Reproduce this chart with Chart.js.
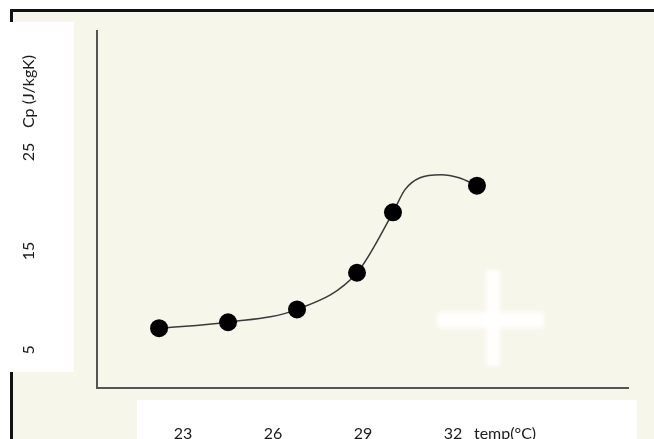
<!DOCTYPE html>
<html>
<head>
<meta charset="utf-8">
<script src="https://cdn.jsdelivr.net/npm/chart.js@4.4.1/dist/chart.umd.min.js"></script>
<style>
html, body { margin: 0; padding: 0; background: #fff; }
canvas { display: block; }
</style>
</head>
<body>
<canvas id="cpChart" width="654" height="439"></canvas>
<script>
// measured points: temperature (degC) and Cp
const temps = [22.2, 24.5, 26.8, 28.8, 30.0, 32.8];
const cpValues = [7.2, 7.8, 9.1, 12.8, 18.9, 21.6];

// traced path of the hand drawn curve (it bulges above the last point)
const curveTemps = [22.2, 24.5, 26.8, 28.8, 30.0, 30.4, 30.9, 31.6, 32.2, 32.8];
const curveCp = [7.2, 7.8, 9.1, 12.8, 18.9, 21.2, 22.4, 22.7, 22.4, 21.6];

const xTicks = [23, 26, 29, 32];
const yTicks = [5, 15, 25];
const xTitle = 'temp(°C)';
const yTitle = 'Cp (J/kgK)';

const FONT = '16px Lato, "Open Sans", sans-serif';

// paper, frame, axes and the pasted white label boxes
const paper = {
  id: 'paper',
  beforeDraw(chart) {
    const ctx = chart.ctx;
    const a = chart.chartArea;
    ctx.save();
    ctx.fillStyle = '#ffffff';
    ctx.fillRect(0, 0, chart.width, chart.height);
    ctx.fillStyle = '#f7f6eb';
    ctx.fillRect(12, 12, chart.width, chart.height);
    // black frame
    ctx.fillStyle = '#111';
    ctx.fillRect(10, 9, chart.width, 3);
    ctx.fillRect(10, 9, 3, chart.height);
    // faded white cross
    ctx.filter = 'blur(2px)';
    ctx.fillStyle = 'rgba(255,255,255,0.9)';
    ctx.fillRect(486, 270, 14, 96);
    ctx.fillRect(437, 312, 107, 16);
    ctx.filter = 'none';
    // axes
    ctx.strokeStyle = '#555';
    ctx.lineWidth = 2;
    ctx.beginPath();
    ctx.moveTo(a.left, a.top);
    ctx.lineTo(a.left, a.bottom);
    ctx.lineTo(a.right, a.bottom);
    ctx.stroke();
    ctx.restore();
  },
  afterDraw(chart) {
    const ctx = chart.ctx;
    const xs = chart.scales.x, ys = chart.scales.y;
    ctx.save();
    ctx.fillStyle = '#fff';
    ctx.fillRect(0, 22, 74, 350);
    ctx.fillRect(137, 400, 500, 39);

    ctx.fillStyle = '#1a1a1a';
    ctx.font = FONT;
    ctx.textBaseline = 'alphabetic';
    ctx.textAlign = 'center';
    xTicks.forEach(v => ctx.fillText(String(v), xs.getPixelForValue(v), 439));
    ctx.textAlign = 'left';
    ctx.fillText(xTitle, xs.getPixelForValue(32) + 21, 439);

    // y labels read bottom-up
    const vertical = (txt, py) => {
      ctx.save();
      ctx.translate(34, py);
      ctx.rotate(-Math.PI / 2);
      ctx.textAlign = 'center';
      ctx.fillText(txt, 0, 0);
      ctx.restore();
    };
    yTicks.forEach(v => vertical(String(v), ys.getPixelForValue(v)));
    vertical(yTitle, ys.getPixelForValue(31.1));
    ctx.restore();
  }
};

new Chart(document.getElementById('cpChart'), {
  type: 'line',
  data: {
    datasets: [{
      label: 'Cp',
      data: temps.map((t, i) => ({ x: t, y: cpValues[i] })),
      showLine: false,
      pointRadius: 9,
      pointBackgroundColor: '#000',
      pointBorderColor: '#000',
      pointBorderWidth: 0,
      order: 0
    }, {
      label: 'curve',
      data: curveTemps.map((t, i) => ({ x: t, y: curveCp[i] })),
      borderColor: '#3a3a3a',
      borderWidth: 1.5,
      pointRadius: 0,
      cubicInterpolationMode: 'monotone',
      fill: false,
      order: 1
    }]
  },
  options: {
    responsive: false,
    animation: false,
    devicePixelRatio: 1,
    layout: { padding: { left: 97, right: 25, top: 30, bottom: 51 } },
    plugins: { legend: { display: false }, tooltip: { enabled: false } },
    scales: {
      x: { type: 'linear', min: 20.13, max: 37.87, display: false },
      y: { type: 'linear', min: 1.16, max: 37.32, display: false }
    }
  },
  plugins: [paper]
});
</script>
</body>
</html>
